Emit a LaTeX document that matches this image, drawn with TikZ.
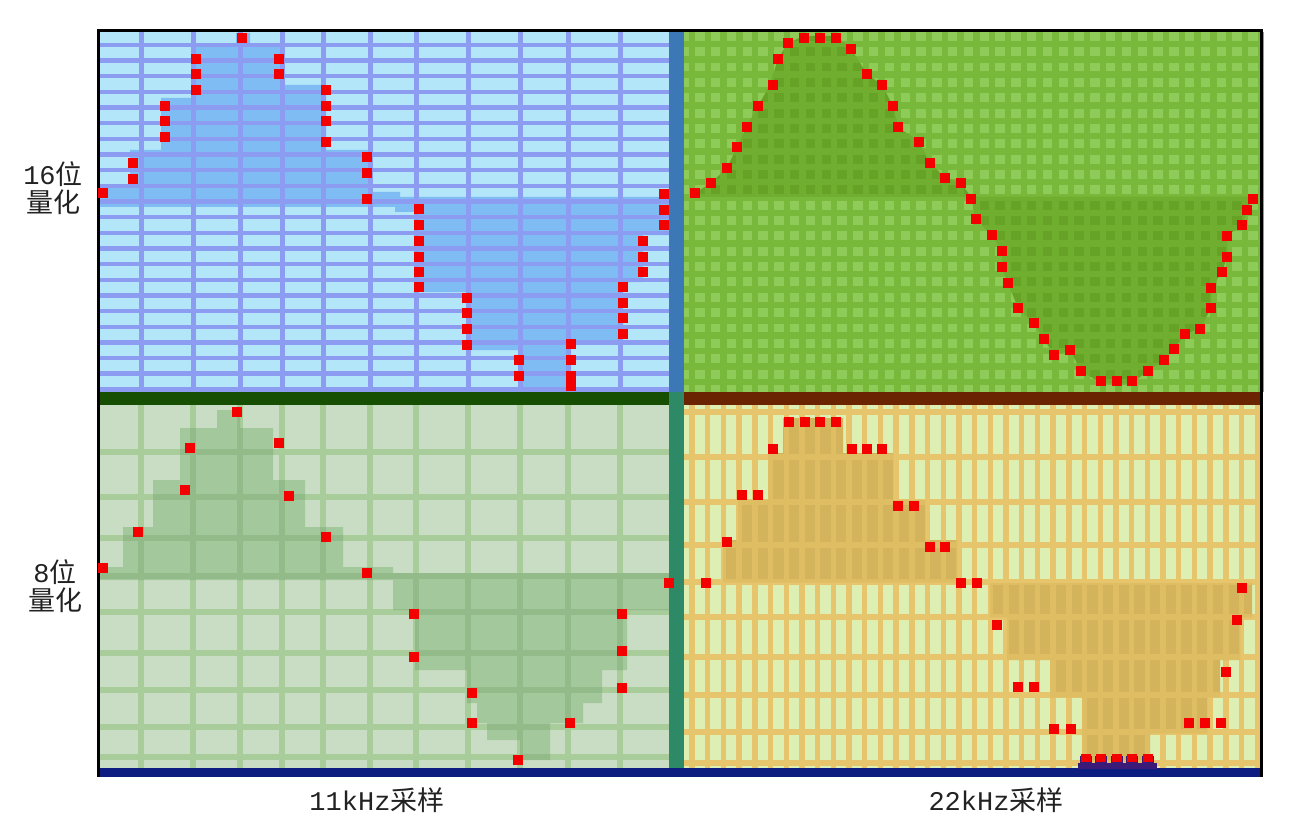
\documentclass[tikz,border=0pt]{standalone}
\usepackage{fontspec}
\newfontfamily\cjk{Noto Sans CJK SC}
\newfontfamily\lmono{Liberation Mono}
\definecolor{tlcell}{HTML}{B2E6F8}
\definecolor{tlline}{HTML}{8C9CF0}
\definecolor{tlfill}{HTML}{80BCF4}
\definecolor{trline}{HTML}{78B83A}
\definecolor{trcell}{HTML}{8ECB58}
\definecolor{trfline}{HTML}{70AE30}
\definecolor{trfcell}{HTML}{66A226}
\definecolor{blcell}{HTML}{C9DCC4}
\definecolor{blline}{HTML}{A9CC9B}
\definecolor{blfcell}{HTML}{A3C89B}
\definecolor{blfline}{HTML}{93BB8A}
\definecolor{brcell}{HTML}{DDEFB2}
\definecolor{brline}{HTML}{E7C56C}
\definecolor{brfcell}{HTML}{D3B35C}
\definecolor{brfline}{HTML}{DEBD63}
\definecolor{divblue}{HTML}{3B78B5}
\definecolor{divteal}{HTML}{2E8A66}
\definecolor{bandgreen}{HTML}{164E02}
\definecolor{bandbrown}{HTML}{6A2402}
\definecolor{navyband}{HTML}{0C1C80}
\definecolor{dotred}{HTML}{F50000}
\definecolor{bumppurple}{HTML}{3C1A78}
\definecolor{labtext}{HTML}{222222}
\newcommand\tlgridlines[1]{%
 \foreach \x in {141,193,240,282,323,370,416,468,520,568,620} {\fill[#1] (\x-2.5,32) rectangle (\x+2.5,392);}
 \foreach \k in {0,...,22} {\fill[#1] (100,{45+15.65*\k-2.2}) rectangle (669,{45+15.65*\k+2.2});}
}
\newcommand\trgridlines[1]{%
 \foreach \i in {0,...,36} {\fill[#1] ({692+15.8*\i-3.2},32) rectangle ({692+15.8*\i+3.2},392);}
 \foreach \j in {0,...,22} {\fill[#1] (684,{44+15.35*\j-3.2}) rectangle (1260,{44+15.35*\j+3.2});}
}
\newcommand\blgridlines[1]{%
 \foreach \x in {141,193,240,282,323,370,416,468,520,568,620} {\fill[#1] (\x-3,405) rectangle (\x+3,768);}
 \foreach \y in {452,497,538,576,612,653,690,727,757} {\fill[#1] (100,\y-3) rectangle (669,\y+3);}
}
\newcommand\brgridlines[1]{%
 \foreach \i in {0,...,36} {\fill[#1] ({692+15.7*\i-2.7},405) rectangle ({692+15.7*\i+2.7},768);}
 \foreach \y in {412,457,502,545,582,617,657,695,732,763} {\fill[#1] (684,\y-3) rectangle (1260,\y+3);}
}
\def\tlA{(100,207) -- (100,185) -- (130,185) -- (130,150) -- (161,150) -- (161,98) -- (192,98) -- (192,47) -- (236,47) -- (236,33) -- (250,33) -- (250,47) -- (281,47) -- (281,85) -- (326,85) -- (326,150) -- (368,150) -- (368,192) -- (400,192) -- (400,207) -- cycle}
\def\tlB{(395,197) -- (669,197) -- (669,235) -- (643,235) -- (643,282) -- (623,282) -- (623,340) -- (571,340) -- (571,390) -- (519,390) -- (519,350) -- (467,350) -- (467,292) -- (419,292) -- (419,212) -- (395,212) -- cycle}
\def\trA{(690,197) -- (695,193) -- (711,183) -- (727,168) -- (737,147) -- (747,127) -- (758,106) -- (770,85) -- (778,59) -- (788,43) -- (804,36) -- (820,36) -- (836,36) -- (851,49) -- (867,74) -- (882,85) -- (893,106) -- (898,127) -- (919,142) -- (930,163) -- (945,178) -- (961,183) -- (971,197) -- cycle}
\def\trB{(971,197) -- (976,219) -- (992,235) -- (1002,251) -- (1002,267) -- (1008,283) -- (1018,308) -- (1034,323) -- (1044,339) -- (1054,355) -- (1070,350) -- (1081,371) -- (1101,383) -- (1117,383) -- (1132,383) -- (1148,371) -- (1164,360) -- (1174,349) -- (1185,334) -- (1200,329) -- (1211,308) -- (1211,288) -- (1222,272) -- (1227,257) -- (1227,236) -- (1242,225) -- (1247,210) -- (1253,197) -- cycle}
\def\blA{(100,580) -- (100,567) -- (123,567) -- (123,527) -- (153,527) -- (153,480) -- (180,480) -- (180,428) -- (217,428) -- (217,410) -- (240,410) -- (240,428) -- (273,428) -- (273,480) -- (305,480) -- (305,527) -- (343,527) -- (343,567) -- (393,567) -- (393,580) -- cycle}
\def\blB{(393,573) -- (669,573) -- (669,610) -- (627,610) -- (627,670) -- (602,670) -- (602,703) -- (583,703) -- (583,723) -- (550,723) -- (550,760) -- (520,760) -- (520,740) -- (487,740) -- (487,723) -- (477,723) -- (477,703) -- (467,703) -- (467,670) -- (415,670) -- (415,610) -- (393,610) -- cycle}
\def\brA{(723,582) -- (723,540) -- (738,540) -- (738,500) -- (768,500) -- (768,453) -- (783,453) -- (783,418) -- (843,418) -- (843,453) -- (893,453) -- (893,500) -- (925,500) -- (925,540) -- (957,540) -- (957,582) -- cycle}
\def\brB{(990,583) -- (1252,583) -- (1252,617) -- (1240,617) -- (1240,660) -- (1220,660) -- (1220,697) -- (1207,697) -- (1207,733) -- (1150,733) -- (1150,762) -- (1082,762) -- (1082,697) -- (1050,697) -- (1050,660) -- (1007,660) -- (1007,617) -- (990,617) -- cycle}
\tikzset{
 dot/.style={fill=dotred},
 lab/.style={font=\lmono\fontsize{27}{28}\selectfont, text=labtext, inner sep=0pt, align=center}
}
\begin{document}
\begin{tikzpicture}[x=1pt,y=-1pt]
\useasboundingbox (0,0) rectangle (1306,829);
\fill[white] (0,0) rectangle (1306,829);
% ---- top left: 16 bit, 11 kHz
\fill[tlcell] (100,32) rectangle (669,392);
\fill[tlfill] \tlA \tlB;
\tlgridlines{tlline}
% ---- top right: 16 bit, 22 kHz
\fill[trcell] (684,32) rectangle (1260,392);
\trgridlines{trline}
\fill[trfcell] \trA \trB;
\begin{scope}
 \clip \trA \trB;
 \trgridlines{trfline}
\end{scope}
% ---- bottom left: 8 bit, 11 kHz
\fill[blcell] (100,405) rectangle (669,768);
\blgridlines{blline}
\fill[blfcell] \blA \blB;
\begin{scope}
 \clip \blA \blB;
 \blgridlines{blfline}
\end{scope}
% ---- bottom right: 8 bit, 22 kHz
\fill[brcell] (684,405) rectangle (1260,768);
\brgridlines{brline}
\fill[brfcell] \brA \brB;
\begin{scope}
 \clip \brA \brB;
 \brgridlines{brfline}
\end{scope}
% ---- dividers and frame
\fill[divblue] (669,32) rectangle (684,392);
\fill[divteal] (669,392) rectangle (684,768);
\fill[bandgreen] (100,392) rectangle (669,405);
\fill[bandbrown] (684,392) rectangle (1260,405);
\fill[navyband] (97,768) rectangle (1263,777);
\fill[black] (97,29) rectangle (1263,32);
\fill[black] (97,29) rectangle (100,777);
\fill[black] (1260,29) rectangle (1263,777);
% ---- samples
\foreach \x/\y in {242/38,196/59,196/74,196/90,279/59,279/74,165/106,165/121,165/137,326/90,326/106,326/121,326/142,133/163,133/179,103/193,367/157,367/173,367/199,664/194,664/210,664/225,643/241,643/257,643/272,623/287,623/303,623/318,623/334,419/209,419/225,419/241,419/257,419/272,419/287,467/298,467/313,467/329,467/345,519/360,519/376,571/344,571/360,571/376,571/386}
 {\fill[dot] (\x-5,\y-5) rectangle (\x+5,\y+5);}
\foreach \x/\y in {695/193,711/183,727/168,737/147,747/127,758/106,773/85,778/59,788/43,804/38,820/38,836/38,851/49,867/74,882/85,893/106,898/127,919/142,930/163,945/178,961/183,971/199,976/219,992/235,1002/251,1002/267,1008/283,1018/308,1034/323,1044/339,1054/355,1070/350,1081/371,1101/381,1117/381,1132/381,1148/371,1164/360,1174/349,1185/334,1200/329,1211/308,1211/288,1222/272,1227/257,1227/236,1242/225,1247/210,1253/199}
 {\fill[dot] (\x-5,\y-5) rectangle (\x+5,\y+5);}
\foreach \x/\y in {237/412,190/448,279/443,185/490,289/496,138/532,326/537,103/568,367/573,414/614,414/657,472/693,472/723,518/760,570/723,622/688,622/651,622/614,669/583}
 {\fill[dot] (\x-5,\y-5) rectangle (\x+5,\y+5);}
\foreach \x/\y in {789/422,805/422,820/422,836/422,773/449,852/449,867/449,882/449,742/495,758/495,898/506,914/506,727/542,930/547,945/547,706/583,961/583,977/583,1242/588,997/625,1237/620,1018/687,1034/687,1226/672,1054/729,1071/729,1189/723,1205/723,1221/723}
 {\fill[dot] (\x-5,\y-5) rectangle (\x+5,\y+5);}
\fill[bumppurple] (1078,763) rectangle (1157,769);
\foreach \x in {1086,1101,1117,1132,1148}
 {\fill[bumppurple] (\x-6,756) rectangle (\x+6,768);
  \fill[dot] (\x-5,754) rectangle (\x+5,762);}
% ---- labels
\node[lab] (q16) at (53,188) {16{\cjk 位}\\{\cjk 量化}};
\node[lab] (q8) at (55,586) {8{\cjk 位}\\{\cjk 量化}};
\node[lab] (s11) at (377,800) {11kHz{\cjk 采样}};
\node[lab] (s22) at (996,800) {22kHz{\cjk 采样}};
\end{tikzpicture}
\end{document}
